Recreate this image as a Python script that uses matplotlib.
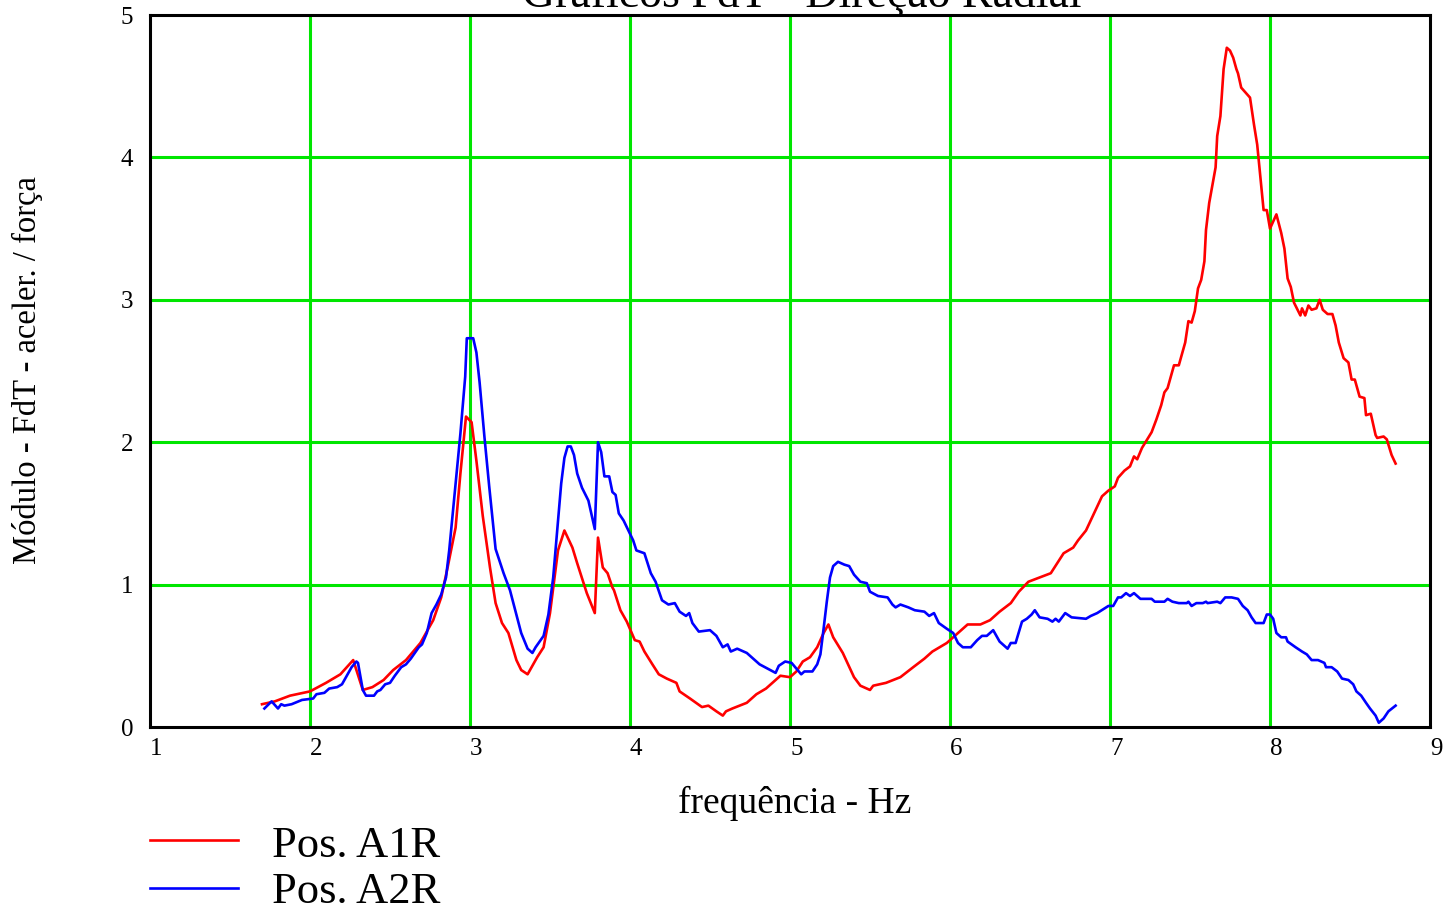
import numpy as np
import matplotlib.pyplot as plt

# Pos. A1R (red)
freq_a1r = [1.70, 1.78, 1.875, 2.0, 2.10, 2.19, 2.27, 2.33, 2.39, 2.46, 2.52, 2.60, 2.69, 2.77, 2.82, 2.86,
            2.91, 2.94, 2.975, 3.01, 3.04, 3.08, 3.125, 3.16, 3.20, 3.24, 3.29, 3.32, 3.36, 3.42, 3.46, 3.50,
            3.55, 3.59, 3.64, 3.67, 3.73, 3.78, 3.80, 3.81, 3.83, 3.86, 3.89, 3.90, 3.94, 3.98, 4.03, 4.06,
            4.09, 4.14, 4.18, 4.23, 4.29, 4.31, 4.375, 4.45, 4.49, 4.54, 4.58, 4.60, 4.64, 4.73, 4.79, 4.85,
            4.90, 4.94, 5.0, 5.04, 5.08, 5.125, 5.17, 5.21, 5.24, 5.27, 5.33, 5.40, 5.44, 5.50, 5.52, 5.60,
            5.69, 5.77, 5.84, 5.89, 5.98, 6.04, 6.11, 6.19, 6.25, 6.31, 6.38, 6.43, 6.49, 6.56, 6.63, 6.67,
            6.71, 6.77, 6.80, 6.85, 6.90, 6.95, 6.99, 7.03, 7.05, 7.09, 7.125, 7.15, 7.17, 7.20, 7.26, 7.29,
            7.32, 7.34, 7.36, 7.40, 7.43, 7.47, 7.49, 7.51, 7.53, 7.55, 7.57, 7.59, 7.60, 7.62, 7.66, 7.67,
            7.69, 7.71, 7.73, 7.75, 7.77, 7.79, 7.80, 7.82, 7.875, 7.90, 7.92, 7.94, 7.96, 7.98, 8.00, 8.04,
            8.07, 8.09, 8.11, 8.13, 8.15, 8.19, 8.20, 8.22, 8.24, 8.26, 8.29, 8.31, 8.33, 8.36, 8.39, 8.41,
            8.43, 8.46, 8.49, 8.51, 8.53, 8.56, 8.59, 8.60, 8.63, 8.66, 8.67, 8.71, 8.73, 8.76, 8.785]
mod_a1r = [0.16, 0.18, 0.22, 0.25, 0.31, 0.37, 0.47, 0.26, 0.28, 0.33, 0.40, 0.47, 0.59, 0.75, 0.91, 1.12,
           1.40, 1.78, 2.18, 2.14, 1.87, 1.48, 1.12, 0.87, 0.73, 0.66, 0.47, 0.40, 0.37, 0.49, 0.56, 0.80,
           1.24, 1.38, 1.26, 1.15, 0.94, 0.80, 1.33, 1.26, 1.12, 1.08, 0.98, 0.96, 0.82, 0.74, 0.61, 0.60,
           0.53, 0.44, 0.37, 0.34, 0.31, 0.25, 0.20, 0.14, 0.15, 0.11, 0.08, 0.11, 0.13, 0.17, 0.23, 0.27,
           0.32, 0.36, 0.35, 0.39, 0.46, 0.49, 0.56, 0.66, 0.72, 0.63, 0.52, 0.35, 0.29, 0.26, 0.29, 0.31,
           0.35, 0.42, 0.48, 0.53, 0.59, 0.65, 0.72, 0.72, 0.75, 0.81, 0.87, 0.95, 1.02, 1.05, 1.08, 1.15,
           1.22, 1.26, 1.31, 1.38, 1.50, 1.62, 1.66, 1.69, 1.75, 1.80, 1.83, 1.90, 1.88, 1.96, 2.07, 2.16,
           2.26, 2.35, 2.38, 2.54, 2.54, 2.70, 2.85, 2.84, 2.92, 3.08, 3.14, 3.27, 3.49, 3.68, 3.93, 4.15,
           4.29, 4.62, 4.77, 4.75, 4.70, 4.62, 4.59, 4.49, 4.42, 4.23, 4.09, 3.86, 3.63, 3.63, 3.50, 3.60,
           3.47, 3.36, 3.15, 3.09, 2.98, 2.89, 2.94, 2.89, 2.96, 2.93, 2.94, 3.00, 2.93, 2.90, 2.90, 2.82,
           2.70, 2.59, 2.56, 2.44, 2.44, 2.32, 2.31, 2.19, 2.20, 2.05, 2.03, 2.04, 2.02, 1.91, 1.85]

# Pos. A2R (blue)
freq_a2r = [1.715, 1.76, 1.80, 1.82, 1.84, 1.885, 1.95, 2.02, 2.04, 2.09, 2.12, 2.17, 2.20, 2.23, 2.26, 2.29,
            2.30, 2.33, 2.35, 2.40, 2.42, 2.44, 2.47, 2.50, 2.53, 2.57, 2.60, 2.63, 2.68, 2.70, 2.73, 2.76,
            2.79, 2.82, 2.85, 2.87, 2.90, 2.94, 2.97, 2.98, 3.02, 3.04, 3.06, 3.09, 3.12, 3.16, 3.21, 3.25,
            3.29, 3.32, 3.36, 3.39, 3.41, 3.46, 3.49, 3.52, 3.55, 3.57, 3.59, 3.61, 3.63, 3.65, 3.67, 3.70,
            3.74, 3.78, 3.80, 3.82, 3.84, 3.87, 3.89, 3.91, 3.93, 3.96, 4.02, 4.04, 4.09, 4.13, 4.16, 4.20,
            4.24, 4.28, 4.31, 4.35, 4.37, 4.39, 4.43, 4.50, 4.54, 4.58, 4.61, 4.63, 4.67, 4.73, 4.77, 4.81,
            4.86, 4.91, 4.93, 4.97, 5.01, 5.04, 5.07, 5.09, 5.14, 5.17, 5.19, 5.21, 5.23, 5.25, 5.27, 5.30,
            5.34, 5.37, 5.40, 5.44, 5.48, 5.50, 5.55, 5.61, 5.64, 5.66, 5.69, 5.74, 5.78, 5.84, 5.87, 5.90,
            5.93, 5.98, 6.02, 6.05, 6.08, 6.13, 6.17, 6.20, 6.23, 6.27, 6.31, 6.36, 6.38, 6.41, 6.45, 6.48,
            6.51, 6.53, 6.56, 6.61, 6.64, 6.66, 6.68, 6.72, 6.76, 6.85, 6.88, 6.92, 6.99, 7.02, 7.05, 7.07,
            7.10, 7.125, 7.15, 7.19, 7.26, 7.28, 7.34, 7.36, 7.39, 7.43, 7.48, 7.49, 7.51, 7.54, 7.58, 7.60,
            7.61, 7.67, 7.69, 7.72, 7.74, 7.76, 7.80, 7.83, 7.86, 7.885, 7.91, 7.96, 7.98, 8.00, 8.02, 8.04,
            8.07, 8.10, 8.11, 8.16, 8.20, 8.23, 8.26, 8.30, 8.34, 8.35, 8.385, 8.42, 8.45, 8.49, 8.52, 8.54,
            8.57, 8.60, 8.625, 8.66, 8.68, 8.71, 8.74, 8.785]
mod_a2r = [0.13, 0.18, 0.13, 0.16, 0.15, 0.16, 0.19, 0.20, 0.23, 0.24, 0.27, 0.28, 0.30, 0.36, 0.42, 0.46,
           0.45, 0.26, 0.22, 0.22, 0.25, 0.26, 0.30, 0.31, 0.36, 0.42, 0.44, 0.48, 0.56, 0.58, 0.66, 0.80,
           0.86, 0.93, 1.05, 1.24, 1.59, 2.06, 2.46, 2.73, 2.73, 2.63, 2.42, 2.04, 1.69, 1.25, 1.08, 0.96,
           0.79, 0.66, 0.55, 0.52, 0.56, 0.64, 0.79, 1.05, 1.45, 1.71, 1.89, 1.97, 1.97, 1.91, 1.78, 1.68,
           1.59, 1.39, 2.00, 1.93, 1.76, 1.76, 1.65, 1.63, 1.50, 1.45, 1.31, 1.24, 1.22, 1.08, 1.02, 0.89,
           0.86, 0.87, 0.81, 0.78, 0.80, 0.73, 0.67, 0.68, 0.64, 0.56, 0.58, 0.53, 0.55, 0.52, 0.48, 0.44,
           0.41, 0.38, 0.43, 0.46, 0.45, 0.41, 0.37, 0.39, 0.39, 0.44, 0.51, 0.69, 0.88, 1.05, 1.13, 1.16,
           1.14, 1.13, 1.07, 1.02, 1.01, 0.95, 0.92, 0.91, 0.86, 0.84, 0.86, 0.84, 0.82, 0.81, 0.78, 0.80,
           0.73, 0.69, 0.66, 0.59, 0.56, 0.56, 0.61, 0.64, 0.64, 0.68, 0.60, 0.55, 0.59, 0.59, 0.74, 0.76,
           0.79, 0.82, 0.77, 0.76, 0.74, 0.76, 0.74, 0.80, 0.77, 0.76, 0.78, 0.80, 0.85, 0.85, 0.91, 0.91,
           0.94, 0.92, 0.94, 0.90, 0.90, 0.88, 0.88, 0.90, 0.88, 0.87, 0.87, 0.88, 0.85, 0.87, 0.87, 0.88,
           0.87, 0.88, 0.87, 0.91, 0.91, 0.91, 0.90, 0.85, 0.82, 0.77, 0.73, 0.73, 0.79, 0.79, 0.76, 0.66,
           0.63, 0.63, 0.60, 0.56, 0.53, 0.51, 0.47, 0.47, 0.45, 0.42, 0.42, 0.39, 0.34, 0.33, 0.30, 0.25,
           0.22, 0.17, 0.13, 0.08, 0.03, 0.06, 0.11, 0.15]

x_ticks = [1, 2, 3, 4, 5, 6, 7, 8, 9]
y_ticks = [0, 1, 2, 3, 4, 5]

plt.rcParams['font.family'] = ['Liberation Serif', 'DejaVu Serif']

fig = plt.figure(figsize=(14.43, 9.09), dpi=100)
ax = fig.add_axes([150 / 1443, 1 - 727 / 909, 1280 / 1443, 712 / 909])

# grid
for xv in x_ticks[1:-1]:
    ax.axvline(xv, color='#00e600', lw=2.2, zorder=1)
for yv in y_ticks[1:-1]:
    ax.axhline(yv, color='#00e600', lw=2.2, zorder=1)

ax.plot(freq_a1r, mod_a1r, color='#ff0000', lw=1.9, zorder=3)
ax.plot(freq_a2r, mod_a2r, color='#0000ff', lw=1.9, zorder=3)

ax.set_xlim(1, 9)
ax.set_ylim(0, 5)
ax.set_xticks(x_ticks)
ax.set_yticks(y_ticks)
ax.set_xticklabels([str(v) for v in x_ticks], fontsize=18, ha='left')
ax.set_yticklabels([str(v) for v in y_ticks], fontsize=18)
ax.tick_params(length=0, pad=8)
ax.tick_params(axis='y', pad=12)
for s in ax.spines.values():
    s.set_linewidth(2.2)
    s.set_color('black')

fig.text(795 / 1443, 1 - 803 / 909, 'frequência - Hz', fontsize=27, ha='center', va='center')
fig.text(27 / 1443, 1 - 370 / 909, 'Módulo - FdT - aceler. / força', fontsize=23.5,
         rotation=90, ha='center', va='center')
fig.text(802 / 1443, 1 - 7 / 909, 'Gráficos FdT - Direção Radial', fontsize=33,
         ha='center', va='baseline')

# legend drawn by hand below the axes
leg = fig.add_axes([0, 0, 1, 1], facecolor='none')
leg.set_xlim(0, 1443)
leg.set_ylim(909, 0)
leg.axis('off')
leg.plot([150, 238], [840, 840], color='#ff0000', lw=1.9)
leg.plot([150, 238], [888, 888], color='#0000ff', lw=1.9)
leg.text(272, 857, 'Pos. A1R', fontsize=32, va='baseline')
leg.text(272, 903, 'Pos. A2R', fontsize=32, va='baseline')

fig.savefig('out.png', dpi=100)
